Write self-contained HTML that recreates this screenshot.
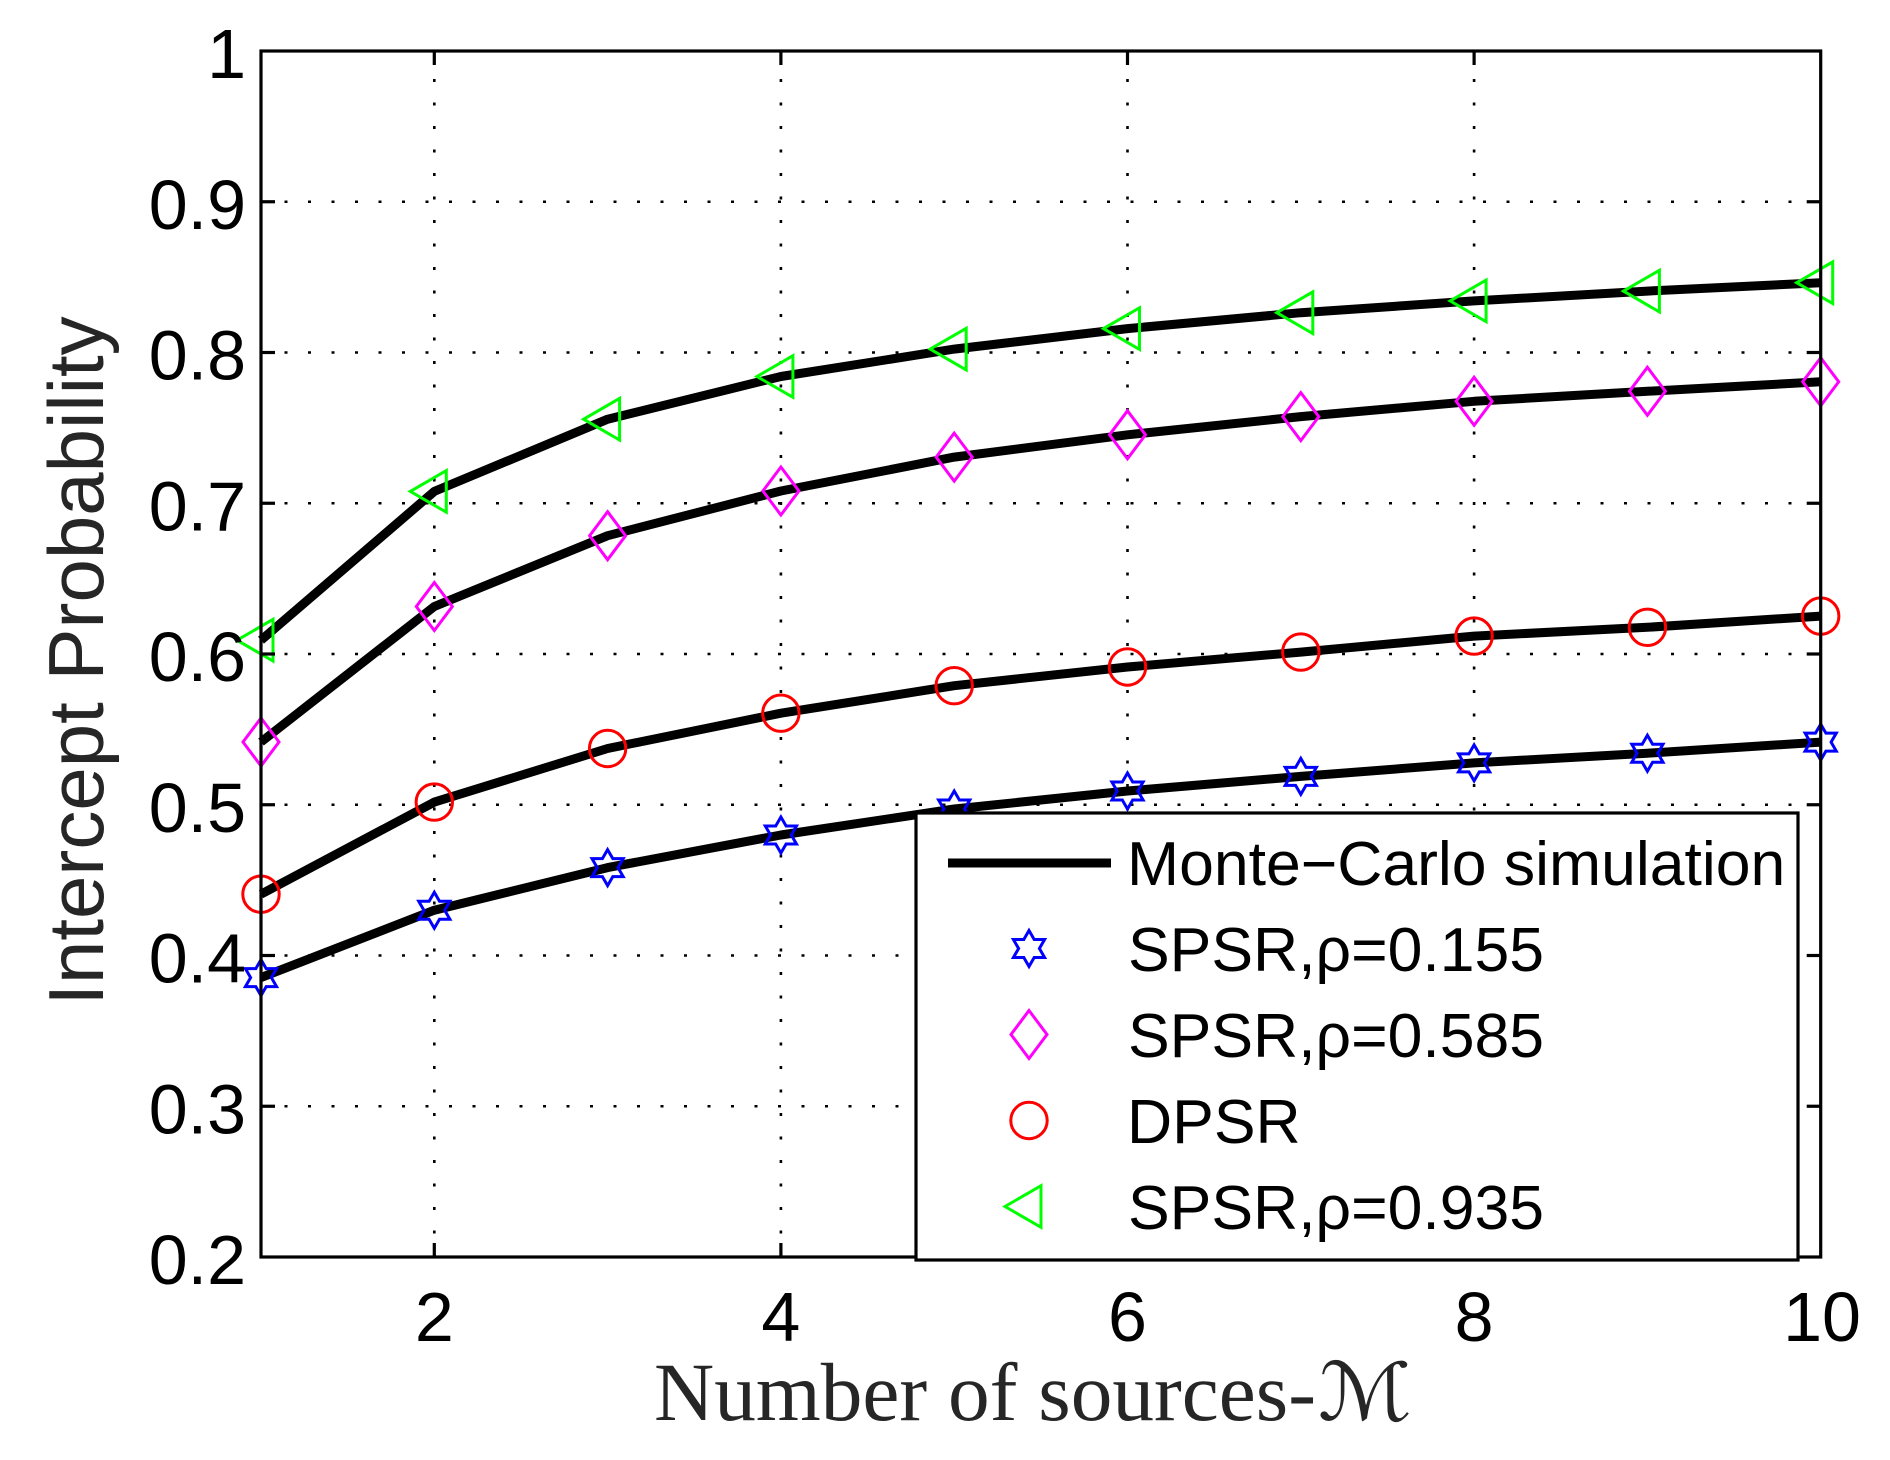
<!DOCTYPE html>
<html>
<head>
<meta charset="utf-8">
<style>
html,body{margin:0;padding:0;background:#fff;}
svg{display:block;}
</style>
</head>
<body>
<svg width="1890" height="1460" viewBox="0 0 1890 1460" xmlns="http://www.w3.org/2000/svg">
<defs>
  <path id="star" d="M0,-18 L5.2,-9 L15.59,-9 L10.39,0 L15.59,9 L5.2,9 L0,18 L-5.2,9 L-15.59,9 L-10.39,0 L-15.59,-9 L-5.2,-9 Z" fill="none" stroke="#0000ff" stroke-width="3"/>
  <path id="dia" d="M0,-24 L18,0 L0,24 L-18,0 Z" fill="none" stroke="#ff00ff" stroke-width="3"/>
  <circle id="circ" cx="0" cy="0" r="18.2" fill="none" stroke="#ff0000" stroke-width="3"/>
  <path id="tri" d="M-24,0 L12,-20.8 L12,20.8 Z" fill="none" stroke="#00ff00" stroke-width="3"/>
</defs>
<rect width="1890" height="1460" fill="#fff"/>

<!-- grid -->
<g stroke="#000" stroke-width="2.6" stroke-dasharray="3 20.5" fill="none">
  <line x1="261" y1="1106.25" x2="1820.7" y2="1106.25"/>
  <line x1="261" y1="955.5" x2="1820.7" y2="955.5"/>
  <line x1="261" y1="804.75" x2="1820.7" y2="804.75"/>
  <line x1="261" y1="654" x2="1820.7" y2="654"/>
  <line x1="261" y1="503.25" x2="1820.7" y2="503.25"/>
  <line x1="261" y1="352.5" x2="1820.7" y2="352.5"/>
  <line x1="261" y1="201.75" x2="1820.7" y2="201.75"/>
  <line x1="434.3" y1="1257" x2="434.3" y2="51"/>
  <line x1="780.9" y1="1257" x2="780.9" y2="51"/>
  <line x1="1127.5" y1="1257" x2="1127.5" y2="51"/>
  <line x1="1474.1" y1="1257" x2="1474.1" y2="51"/>
</g>

<!-- data lines -->
<g stroke="#000" stroke-width="9" fill="none" stroke-linejoin="round">
  <polyline points="261,640.2 434.3,491.4 607.6,419.2 780.9,376.5 954.2,349.1 1127.5,328.6 1300.8,312.7 1474.1,300.9 1647.4,291.1 1820.7,282.7"/>
  <polyline points="261,742 434.3,606.5 607.6,535.7 780.9,491 954.2,457.1 1127.5,434.8 1300.8,416.6 1474.1,401.3 1647.4,391.3 1820.7,381.8"/>
  <polyline points="261,894.2 434.3,802.1 607.6,748.5 780.9,713.2 954.2,685.7 1127.5,667 1300.8,652.1 1474.1,636.1 1647.4,627.3 1820.7,616.1"/>
  <polyline points="261,977.6 434.3,910.2 607.6,867.6 780.9,835 954.2,809 1127.5,791 1300.8,776.4 1474.1,762.9 1647.4,753.2 1820.7,742.1"/>
</g>

<!-- markers -->
<g>
  <use href="#tri" x="261" y="640.2"/><use href="#tri" x="434.3" y="491.4"/><use href="#tri" x="607.6" y="419.2"/><use href="#tri" x="780.9" y="376.5"/><use href="#tri" x="954.2" y="349.1"/><use href="#tri" x="1127.5" y="328.6"/><use href="#tri" x="1300.8" y="312.7"/><use href="#tri" x="1474.1" y="300.9"/><use href="#tri" x="1647.4" y="291.1"/><use href="#tri" x="1820.7" y="282.7"/>
  <use href="#dia" x="261" y="742"/><use href="#dia" x="434.3" y="606.5"/><use href="#dia" x="607.6" y="535.7"/><use href="#dia" x="780.9" y="491"/><use href="#dia" x="954.2" y="457.1"/><use href="#dia" x="1127.5" y="434.8"/><use href="#dia" x="1300.8" y="416.6"/><use href="#dia" x="1474.1" y="401.3"/><use href="#dia" x="1647.4" y="391.3"/><use href="#dia" x="1820.7" y="381.8"/>
  <use href="#circ" x="261" y="894.2"/><use href="#circ" x="434.3" y="802.1"/><use href="#circ" x="607.6" y="748.5"/><use href="#circ" x="780.9" y="713.2"/><use href="#circ" x="954.2" y="685.7"/><use href="#circ" x="1127.5" y="667"/><use href="#circ" x="1300.8" y="652.1"/><use href="#circ" x="1474.1" y="636.1"/><use href="#circ" x="1647.4" y="627.3"/><use href="#circ" x="1820.7" y="616.1"/>
  <use href="#star" x="261" y="977.6"/><use href="#star" x="434.3" y="910.2"/><use href="#star" x="607.6" y="867.6"/><use href="#star" x="780.9" y="835"/><use href="#star" x="954.2" y="809"/><use href="#star" x="1127.5" y="791"/><use href="#star" x="1300.8" y="776.4"/><use href="#star" x="1474.1" y="762.9"/><use href="#star" x="1647.4" y="753.2"/><use href="#star" x="1820.7" y="742.1"/>
</g>

<!-- axes box -->
<rect x="261" y="51" width="1559.7" height="1206" fill="none" stroke="#000" stroke-width="3.2"/>

<!-- ticks -->
<g stroke="#000" stroke-width="3.2">
  <line x1="261" y1="1106.25" x2="275" y2="1106.25"/>
  <line x1="261" y1="955.5" x2="275" y2="955.5"/>
  <line x1="261" y1="804.75" x2="275" y2="804.75"/>
  <line x1="261" y1="654" x2="275" y2="654"/>
  <line x1="261" y1="503.25" x2="275" y2="503.25"/>
  <line x1="261" y1="352.5" x2="275" y2="352.5"/>
  <line x1="261" y1="201.75" x2="275" y2="201.75"/>
  <line x1="1820.7" y1="1106.25" x2="1806.7" y2="1106.25"/>
  <line x1="1820.7" y1="955.5" x2="1806.7" y2="955.5"/>
  <line x1="1820.7" y1="804.75" x2="1806.7" y2="804.75"/>
  <line x1="1820.7" y1="654" x2="1806.7" y2="654"/>
  <line x1="1820.7" y1="503.25" x2="1806.7" y2="503.25"/>
  <line x1="1820.7" y1="352.5" x2="1806.7" y2="352.5"/>
  <line x1="1820.7" y1="201.75" x2="1806.7" y2="201.75"/>
  <line x1="434.3" y1="1257" x2="434.3" y2="1243"/>
  <line x1="780.9" y1="1257" x2="780.9" y2="1243"/>
  <line x1="1127.5" y1="1257" x2="1127.5" y2="1243"/>
  <line x1="1474.1" y1="1257" x2="1474.1" y2="1243"/>
  <line x1="434.3" y1="51" x2="434.3" y2="65"/>
  <line x1="780.9" y1="51" x2="780.9" y2="65"/>
  <line x1="1127.5" y1="51" x2="1127.5" y2="65"/>
  <line x1="1474.1" y1="51" x2="1474.1" y2="65"/>
</g>

<!-- y tick labels -->
<g font-family="'Liberation Sans', Arial, sans-serif" font-size="70" fill="#000" text-anchor="end">
  <text x="246" y="78">1</text>
  <text x="246" y="228.75">0.9</text>
  <text x="246" y="379.5">0.8</text>
  <text x="246" y="530.25">0.7</text>
  <text x="246" y="681">0.6</text>
  <text x="246" y="831.75">0.5</text>
  <text x="246" y="982.5">0.4</text>
  <text x="246" y="1133.25">0.3</text>
  <text x="246" y="1284">0.2</text>
</g>

<!-- x tick labels -->
<g font-family="'Liberation Sans', Arial, sans-serif" font-size="70" fill="#000" text-anchor="middle">
  <text x="434.3" y="1341">2</text>
  <text x="780.9" y="1341">4</text>
  <text x="1127.5" y="1341">6</text>
  <text x="1474.1" y="1341">8</text>
  <text x="1822" y="1341">10</text>
</g>

<!-- y label -->
<text transform="translate(103,661) rotate(-90)" text-anchor="middle" font-family="'Liberation Sans', Arial, sans-serif" font-size="78" fill="#262626">Intercept Probability</text>

<!-- x label -->
<text x="654" y="1420" font-family="'Liberation Serif', 'Times New Roman', serif" font-size="83" fill="#262626" textLength="662" lengthAdjust="spacingAndGlyphs">Number of sources-</text>
<text x="1318" y="1420" font-family="'DejaVu Serif', 'DejaVu Sans', serif" font-size="80" fill="#262626" textLength="94" lengthAdjust="spacingAndGlyphs">ℳ</text>

<!-- legend -->
<rect x="916" y="813" width="882" height="447" fill="#fff" stroke="#000" stroke-width="3.2"/>
<line x1="948" y1="863" x2="1111" y2="863" stroke="#000" stroke-width="9"/>
<use href="#star" x="1029" y="948.5"/>
<use href="#dia" x="1029" y="1034.5"/>
<use href="#circ" x="1029" y="1120.5"/>
<use href="#tri" x="1029" y="1206.5"/>
<g font-family="'Liberation Sans', Arial, sans-serif" font-size="62.5" fill="#000">
  <text x="1127" y="885">Monte−Carlo simulation</text>
  <text x="1128" y="971">SPSR,ρ=0.155</text>
  <text x="1128" y="1057">SPSR,ρ=0.585</text>
  <text x="1127" y="1143">DPSR</text>
  <text x="1128" y="1229">SPSR,ρ=0.935</text>
</g>
</svg>
</body>
</html>
